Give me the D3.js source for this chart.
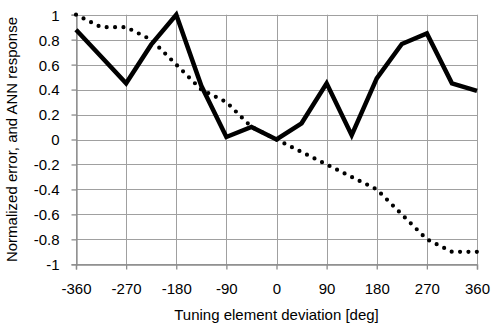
<!DOCTYPE html>
<html>
<head>
<meta charset="utf-8">
<script src="https://cdn.jsdelivr.net/npm/d3@7/dist/d3.min.js"></script>
<style>
body { margin:0; background:#fff; }
text { font-family: "Liberation Sans", Arial, sans-serif; }
</style>
</head>
<body>
<div id="chart"></div>
<script>
// size of SVG
var w = 491;
var h = 329;

// data
var deviation = [-360, -315, -270, -225, -180, -135, -90, -45, 0, 45, 90, 135, 180, 225, 270, 315, 360];
var annResponse = [0.88, 0.665, 0.45, 0.76, 1.0, 0.43, 0.02, 0.1, 0.0, 0.13, 0.45, 0.035, 0.49, 0.765, 0.85, 0.45, 0.39];
var normError = [1.0, 0.9, 0.9, 0.8, 0.6, 0.4, 0.3, 0.1, 0.0, -0.1, -0.2, -0.3, -0.4, -0.6, -0.8, -0.9, -0.9];
var xTicks = [-360, -270, -180, -90, 0, 90, 180, 270, 360];
var yTicks = [-1, -0.8, -0.6, -0.4, -0.2, 0, 0.2, 0.4, 0.6, 0.8, 1];

// plot area (pixels)
var pLeft = 76, pRight = 477, pTop = 14.7, pBottom = 264.3;

var svg = d3.select("#chart")
  .append("svg")
  .attr("width", w)
  .attr("height", h);

var x = d3.scaleLinear().domain([-360, 360]).range([pLeft, pRight]);
var y = d3.scaleLinear().domain([-1, 1]).range([pBottom, pTop]);

// plain hyphen labels, like the original
function fmt(d) { return String(+d.toFixed(1)); }

// grid
svg.append("g").selectAll("line").data(yTicks).enter().append("line")
  .attr("x1", pLeft).attr("x2", pRight)
  .attr("y1", function(d) { return Math.round(y(d)) + 0.5; })
  .attr("y2", function(d) { return Math.round(y(d)) + 0.5; })
  .attr("stroke", "#a0a0a0").attr("stroke-width", 1);
svg.append("g").selectAll("line").data(xTicks).enter().append("line")
  .attr("y1", pTop).attr("y2", pBottom)
  .attr("x1", function(d) { return Math.round(x(d)) + 0.5; })
  .attr("x2", function(d) { return Math.round(x(d)) + 0.5; })
  .attr("stroke", "#a0a0a0").attr("stroke-width", 1);

// axes
var xAxis = svg.append("g")
  .attr("transform", "translate(0," + (Math.round(pBottom) + 0.5) + ")")
  .call(d3.axisBottom(x).tickValues(xTicks).tickSize(5).tickPadding(14).tickFormat(fmt));
var yAxis = svg.append("g")
  .attr("transform", "translate(" + (Math.round(pLeft) + 0.5) + ",0)")
  .call(d3.axisLeft(y).tickValues(yTicks).tickSize(5).tickPadding(12).tickFormat(fmt));
[xAxis, yAxis].forEach(function(a) {
  a.select(".domain").attr("stroke", "#8c8c8c").attr("stroke-width", 1.3);
  a.selectAll(".tick line").attr("stroke", "#8c8c8c").attr("stroke-width", 1.3);
  a.selectAll(".tick text").attr("fill", "#000").style("font-size", "15px")
    .style("font-family", "'Liberation Sans', Arial, sans-serif");
});
yAxis.selectAll(".tick text").attr("dy", "0.36em");

// dotted series
var line = d3.line()
  .x(function(d) { return x(d[0]); })
  .y(function(d) { return y(d[1]); });

svg.append("path")
  .datum(d3.zip(deviation, normError))
  .attr("d", line)
  .attr("fill", "none")
  .attr("stroke", "#000")
  .attr("stroke-width", 4.2)
  .attr("stroke-linecap", "round")
  .attr("stroke-dasharray", "0 8.4");

// solid series
svg.append("path")
  .datum(d3.zip(deviation, annResponse))
  .attr("d", line)
  .attr("fill", "none")
  .attr("stroke", "#000")
  .attr("stroke-width", 4.5)
  .attr("stroke-linejoin", "miter");

// titles
svg.append("text")
  .attr("x", (pLeft + pRight) / 2)
  .attr("y", 320)
  .attr("text-anchor", "middle")
  .style("font-size", "15px")
  .text("Tuning element deviation [deg]");
svg.append("text")
  .attr("transform", "translate(17," + ((pTop + pBottom) / 2) + ") rotate(-90)")
  .attr("text-anchor", "middle")
  .style("font-size", "15px")
  .text("Normalized error, and ANN response");
</script>
</body>
</html>
